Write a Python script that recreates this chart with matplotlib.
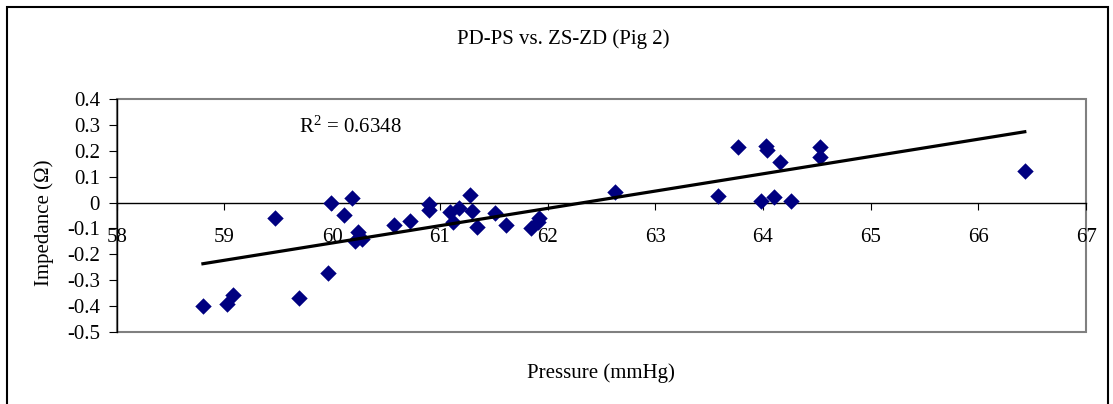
import numpy as np
import matplotlib
matplotlib.use("Agg")
import matplotlib.pyplot as plt
from matplotlib.patches import Rectangle

# Pressure (mmHg) vs impedance (Ohm)
pressure = [58.80, 59.02, 59.08, 59.47, 59.69, 59.96, 59.99, 60.11, 60.18, 60.21,
            60.24, 60.28, 60.57, 60.72, 60.90, 60.90, 61.09, 61.18, 61.12, 61.28,
            61.30, 61.34, 61.51, 61.61, 61.85, 61.92, 61.91, 62.63, 63.58, 63.77,
            63.98, 64.03, 64.04, 64.10, 64.16, 64.26, 64.53, 64.53, 66.43]
impedance = [-0.40, -0.39, -0.355, -0.058, -0.37, -0.27, 0.00, -0.048, 0.018, -0.148,
             -0.115, -0.14, -0.085, -0.073, -0.005, -0.028, -0.035, -0.02, -0.075, 0.03,
             -0.033, -0.095, -0.04, -0.085, -0.10, -0.06, -0.075, 0.039, 0.026, 0.215,
             0.005, 0.218, 0.202, 0.022, 0.157, 0.005, 0.213, 0.176, 0.121]

x_ticks = [58, 59, 60, 61, 62, 63, 64, 65, 66, 67]
y_ticks = [0.4, 0.3, 0.2, 0.1, 0, -0.1, -0.2, -0.3, -0.4, -0.5]
y_ticklabels = ["0.4", "0.3", "0.2", "0.1", "0", "-0.1", "-0.2", "-0.3", "-0.4", "-0.5"]
r2_text = "R$^2$ = 0.6348"

plt.rcParams['font.family'] = ['Liberation Serif', 'DejaVu Serif']
plt.rcParams['font.size'] = 15
plt.rcParams['mathtext.default'] = 'regular'

fig = plt.figure(figsize=(11.13, 4.04), dpi=100)
ax = fig.add_axes([0.1049, 0.178, 0.871, 0.577])

x = np.array(pressure)
y = np.array(impedance)
ax.scatter(x, y, marker='D', s=70, color='#000080', zorder=3, linewidths=0)

# linear trendline
k, b = np.polyfit(x, y, 1)
xs = np.array([x.min(), x.max()])
ax.plot(xs, k * xs + b, color='black', lw=2.3, zorder=4)

ax.text(59.69, 0.29, r2_text, va='center', ha='left')

ax.set_xlim(58, 67)
ax.set_ylim(-0.5, 0.4)
ax.set_xticks(x_ticks)
ax.set_xticklabels([str(t) for t in x_ticks])
ax.set_yticks(y_ticks)
ax.set_yticklabels(y_ticklabels)

# x axis crosses at zero, like excel
ax.spines['bottom'].set_position(('data', 0))
ax.spines['bottom'].set_linewidth(1)
ax.spines['left'].set_linewidth(1)
ax.spines['top'].set_visible(False)
ax.spines['right'].set_visible(False)
ax.tick_params(axis='x', direction='out', length=5, pad=13)
ax.tick_params(axis='y', direction='out', length=6, pad=6)

# grey plot-area frame
ax.add_patch(Rectangle((0, 0), 1, 1, transform=ax.transAxes, fill=False,
                       edgecolor='#808080', lw=1.5, clip_on=False, zorder=0))

ax.set_ylabel("Impedance (\u03a9)")
ax.yaxis.set_label_coords(-0.0647, 0.47)
ax.set_xlabel("Pressure (mmHg)")
ax.xaxis.set_label_coords(0.4996, -0.133)

fig.text(563 / 1113, 1 - 39 / 404, "PD-PS vs. ZS-ZD (Pig 2)", ha='center', va='center')

# outer chart border
fig.patches.append(Rectangle((7 / 1113, -0.05), 1101 / 1113, 1.05 - 7 / 404,
                             transform=fig.transFigure, fill=False,
                             edgecolor='black', lw=1.5))

fig.savefig("out.png", dpi=100)
